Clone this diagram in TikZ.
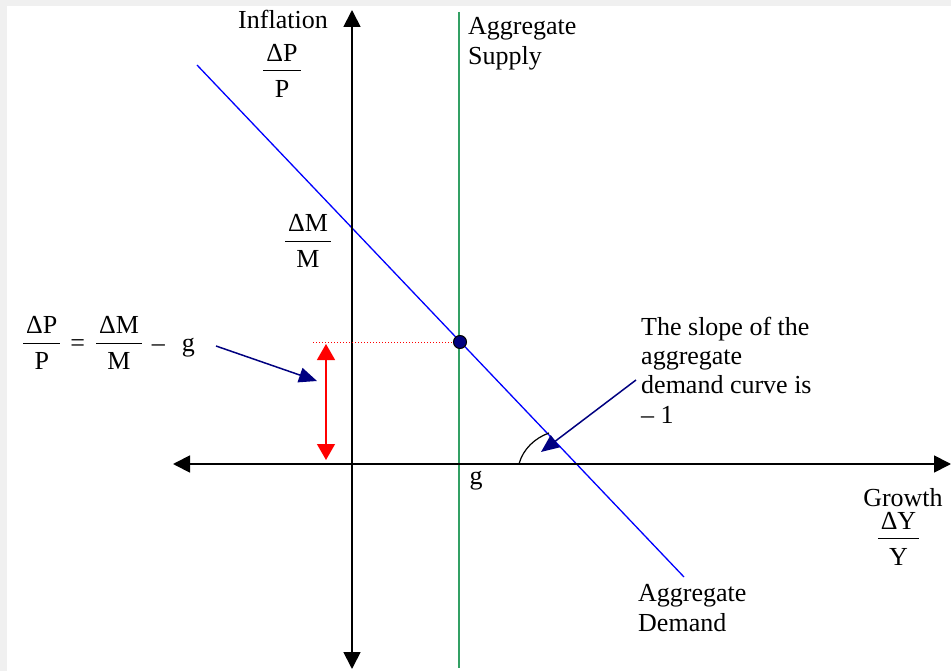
\documentclass[tikz,border=0pt]{standalone}
\usepackage{fontspec}
\setmainfont{Liberation Serif}
\usetikzlibrary{arrows.meta}
\definecolor{asgreen}{RGB}{51,160,100}
\definecolor{navyc}{RGB}{0,0,128}
\definecolor{bggray}{RGB}{240,240,240}
\setlength\arrayrulewidth{1pt}
\newcommand\frc[2]{\begin{tabular}[c]{@{\hspace{3pt}}c@{\hspace{3pt}}}#1\\\hline\rule{0pt}{26pt}#2\end{tabular}}
\begin{document}
\begin{tikzpicture}[x=1pt,y=-1pt,
  lbl/.style={inner sep=0pt, font=\fontsize{26}{30}\selectfont},
  mlbl/.style={inner sep=0pt, align=left, font=\fontsize{26}{30}\selectfont},
  slbl/.style={inner sep=0pt, align=left, font=\fontsize{26}{29.3}\selectfont},
  axisline/.style={line width=1.8pt, {Triangle[length=17pt,width=17pt]}-{Triangle[length=17pt,width=17pt]}},
  redarrow/.style={red, line width=1.3pt, {Triangle[length=16pt,width=18pt]}-{Triangle[length=16pt,width=18pt]}},
  navyarrow/.style={navyc, line width=1.5pt, -{Triangle[length=18pt,width=15pt]}},
  ]
\useasboundingbox (0,0) rectangle (951,671);
\fill[bggray] (0,0) rectangle (951,671);
\fill[white] (7,6) rectangle (951,671);

% coordinates
\coordinate (ytop) at (352,10);
\coordinate (ybot) at (352,669);
\coordinate (xl) at (173,464);
\coordinate (xr) at (951,464);
\coordinate (ast) at (459,12);
\coordinate (asb) at (459,668);
\coordinate (adt) at (197,65);
\coordinate (adb) at (684,577);
\coordinate (dl) at (313,342);
\coordinate (ra) at (326,344);
\coordinate (rb) at (326,460);
\coordinate (n1s) at (216,346);
\coordinate (n1e) at (317,381);
\coordinate (n2s) at (636,380);
\coordinate (n2e) at (541,452);
\coordinate (arcs) at (519,464);
\coordinate (arce) at (549,433);

% lines
\draw[asgreen, line width=1.3pt] (ast) -- (asb);
\draw[blue, line width=1.3pt] (adt) -- (adb);
\draw[axisline] (ybot) -- (ytop);
\draw[axisline] (xl) -- (xr);
\node[circle, draw=black, line width=1pt, fill=navyc, minimum size=13pt, inner sep=0pt] (eq) at (460,342) {};
\draw[red, dotted, line width=1pt] (dl) -- (eq.west);
\draw[redarrow] (ra) -- (rb);
\draw[navyarrow] (n1s) -- (n1e);
\draw[navyarrow] (n2s) -- (n2e);
\draw[black, line width=1.2pt] (arcs) .. controls (523,449) and (535,438) .. (arce);

% labels
\node[lbl, anchor=base] (infl) at (283,29) {Inflation};
\node[lbl] (dpp) at (282,73.5) {\frc{ΔP}{P}};
\node[mlbl, anchor=base west] (asl) at (468,65) {Aggregate\\Supply};
\node[lbl] (dmm) at (308,244) {\frc{ΔM}{M}};
\node[lbl, anchor=west] (eqn) at (23,345.5) {\frc{ΔP}{P}\hspace{10pt}=\hspace{11pt}\frc{ΔM}{M}\hspace{10pt}–\hspace{17pt}g};
\node[lbl, anchor=base] (gl) at (476,484) {g};
\node[slbl, anchor=base west] (slope) at (641,423) {The slope of the\\aggregate\\demand curve is\\– 1};
\node[lbl, anchor=base] (grw) at (903,506) {Growth};
\node[lbl] (dyy) at (898.5,541) {\frc{ΔY}{Y}};
\node[mlbl, anchor=base west] (adl) at (638,631) {Aggregate\\Demand};
\end{tikzpicture}
\end{document}
